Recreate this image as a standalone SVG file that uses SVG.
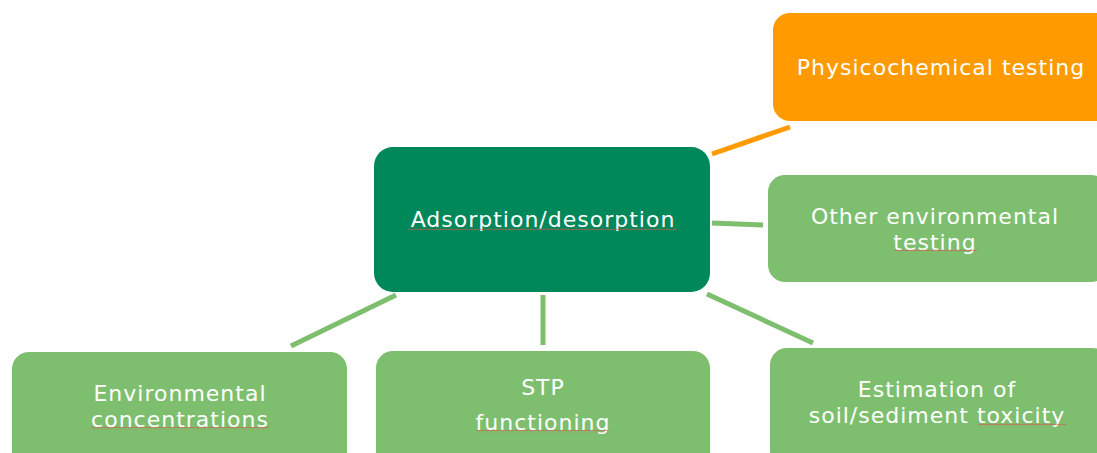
<svg xmlns="http://www.w3.org/2000/svg" width="1097" height="453" viewBox="0 0 1097 453">
<defs>
<style>
.lbl{font-family:"DejaVu Sans","Verdana",sans-serif;font-size:22px;letter-spacing:1px;fill:#ffffff;text-anchor:middle}
.main{fill:#00875A}
.orange{fill:#FF9B00}
.light{fill:#7DBF6E}
.conn{stroke:#7DBF6E;stroke-width:5;fill:none}
.conn-o{stroke:#FF9B00;stroke-width:5;fill:none}
.sq{fill:url(#squiggle)}
</style>
<pattern id="squiggle" patternUnits="userSpaceOnUse" width="4" height="3">
<path d="M0,2.2 L1,0.8 L2,2.2 L3,0.8 L4,2.2" stroke="#D9534F" stroke-width="0.7" fill="none" opacity="0.8"/>
</pattern>
</defs>
<rect width="1097" height="453" fill="#ffffff"/>
<g id="connectors">
<line class="conn-o" x1="712" y1="154" x2="790" y2="127"/>
<line class="conn" x1="712" y1="223" x2="763" y2="225"/>
<line class="conn" x1="396" y1="295" x2="291" y2="346"/>
<line class="conn" x1="543" y1="295" x2="543" y2="345"/>
<line class="conn" x1="707" y1="294" x2="813" y2="343"/>
</g>
<g id="node-adsorption">
<rect class="main" x="374" y="147" width="336" height="145" rx="19"/>
<text class="lbl" x="543" y="227">Adsorption/desorption</text>
<rect class="sq" x="408" y="227" width="269" height="3"/>
</g>
<g id="node-physicochemical">
<rect class="orange" x="773" y="13" width="340" height="108" rx="17"/>
<text class="lbl" x="941" y="75">Physicochemical testing</text>
</g>
<g id="node-other">
<rect class="light" x="768" y="175" width="340" height="107" rx="17"/>
<text class="lbl" x="935" y="223.5">Other environmental</text>
<text class="lbl" x="935" y="249.5">testing</text>
<rect class="sq" x="894" y="249" width="83" height="3"/>
</g>
<g id="node-env-conc">
<rect class="light" x="12" y="352" width="335" height="120" rx="17"/>
<text class="lbl" x="180" y="400.5">Environmental</text>
<text class="lbl" x="180" y="426.5">concentrations</text>
<rect class="sq" x="91" y="427" width="178" height="3"/>
</g>
<g id="node-stp">
<rect class="light" x="376" y="351" width="334" height="120" rx="17"/>
<text class="lbl" x="543" y="395">STP</text>
<text class="lbl" x="543" y="430">functioning</text>
<rect class="sq" x="477" y="430" width="132" height="3"/>
</g>
<g id="node-estimation">
<rect class="light" x="770" y="348" width="340" height="120" rx="17"/>
<text class="lbl" x="937" y="396.5">Estimation of</text>
<text class="lbl" x="937" y="422.5">soil/sediment toxicity</text>
<rect class="sq" x="978" y="423" width="88" height="3"/>
</g>
</svg>
